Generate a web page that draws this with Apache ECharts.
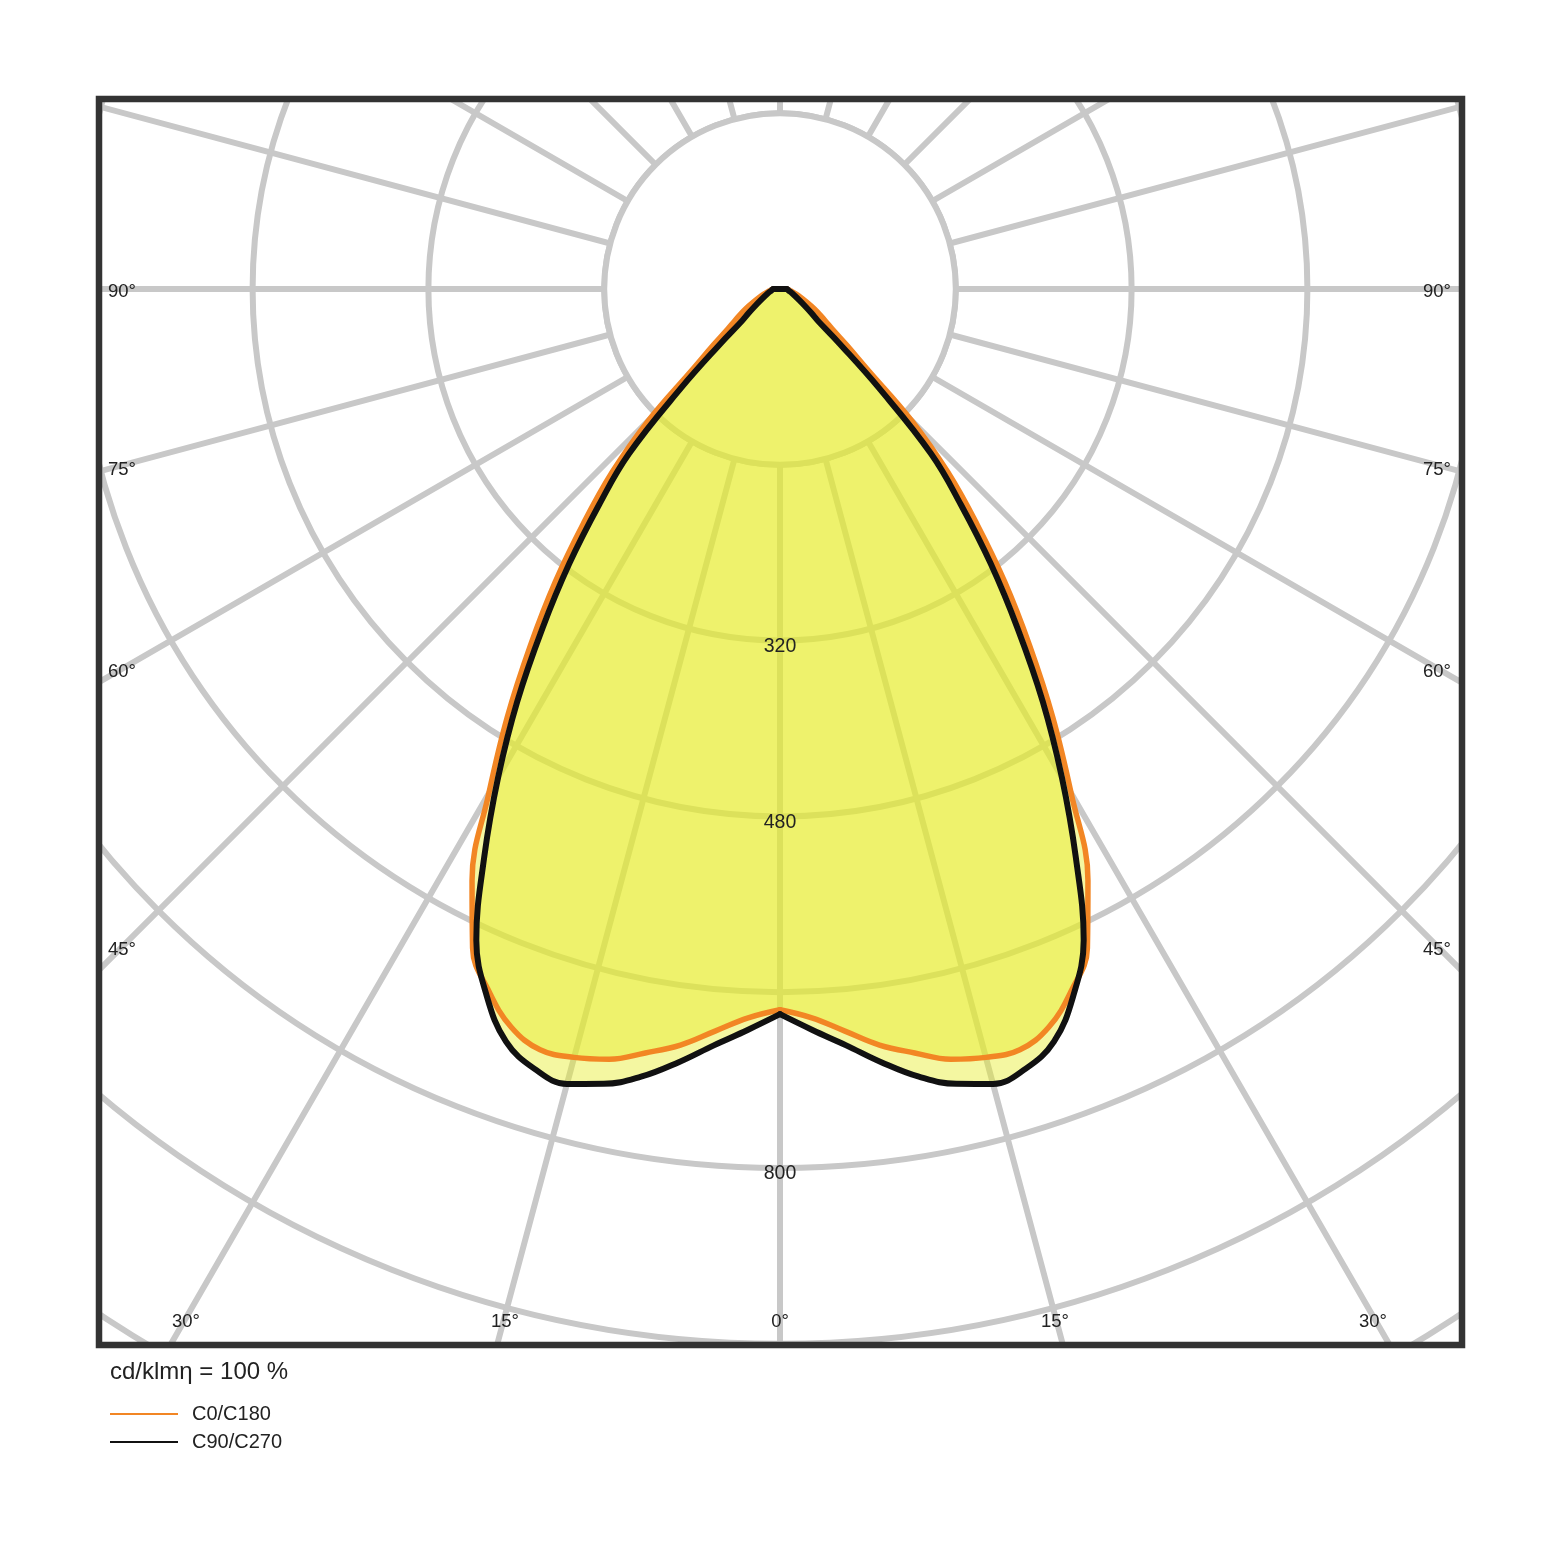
<!DOCTYPE html>
<html>
<head>
<meta charset="utf-8">
<title>配光曲线</title>
<script src="https://cdn.jsdelivr.net/npm/echarts@6.0.0/dist/echarts.min.js"></script>
<style>
  html, body { margin: 0; padding: 0; background: #fff; }
  #chart { width: 1560px; height: 1561px; }
</style>
</head>
<body>
<div id="chart"></div>
<script>
// 光强数据 cd/klm，γ 以正下方为 0°，两侧对称
const gammaDeg = [0, 2.5, 5, 7.5, 10, 12.5, 15, 17.5, 20, 22.5, 25, 27.5, 30, 32.5, 35, 37.5, 40, 42.5, 45, 47.5, 50, 52.5, 55, 60, 70, 80, 90]
const c0c180 = [656, 664, 678, 694, 706, 718, 724, 726, 715, 692, 662, 607, 530, 462, 396, 336, 278, 226, 170, 107, 79, 60, 50, 36, 18, 10, 6]
const c90c270 = [660, 675, 691, 710, 728, 741, 749, 744, 729, 697, 654, 583, 513, 445, 377, 315, 256, 204, 127, 73, 45, 36, 29, 20, 12, 8, 6]

// 刻度文字
const radialLabels = [320, 480, 800]
const sideAngleLabels = ['90°', '75°', '60°', '45°']
const bottomAngleLabels = ['30°', '15°', '0°', '15°', '30°']
const seriesNames = ['C0/C180', 'C90/C270']

// 布局
const cx = 780
const cy = 289
const ringStep = 160
const ringPx = 175.8
const rMax = 1280
const polarR = (ringPx * rMax) / ringStep
const frame = { x: 99, y: 99, width: 1363, height: 1246 }
const sideLabelY = [292, 470, 672, 950]
const bottomLabelDx = [-594, -275, 0, 275, 593]
const bottomLabelY = 1322

const font = 'Liberation Sans, Arial, sans-serif'
const gridLine = { color: '#c8c8c8', width: 6 }
const fillColor = '#e6ed2a'
const orange = '#f28624'
const black = '#111111'

// 半边曲线：左边 angle = γ，右边 angle = 360 - γ；末尾接到对侧 90° 使顶部闭合
function half(values, side) {
  const ang = (g) => (side === 'left' ? g : 360 - g)
  const other = (g) => (side === 'left' ? 360 - g : g)
  const pts = gammaDeg.map((g, i) => [values[i], ang(g)])
  const last = gammaDeg.length - 1
  pts.push([values[last], other(gammaDeg[last])])
  return pts
}

function fillSeries(name, values, side) {
  return {
    name: name,
    type: 'line',
    coordinateSystem: 'polar',
    polarIndex: 0,
    data: half(values, side),
    smooth: 0.4,
    symbol: 'none',
    silent: true,
    lineStyle: { width: 0, opacity: 0 },
    areaStyle: { color: fillColor, opacity: 0.44 },
    z: 2,
  }
}

function lineSeries(name, values, side, color, width, z) {
  return {
    name: name,
    type: 'line',
    coordinateSystem: 'polar',
    polarIndex: 0,
    data: half(values, side),
    smooth: 0.4,
    symbol: 'none',
    silent: true,
    color: color,
    itemStyle: { color: color },
    lineStyle: { color: color, width: width, cap: 'round', join: 'round' },
    z: z,
  }
}

const textStyleBase = { fill: '#222', fontSize: 18.5, fontFamily: font }

const graphics = [
  // 内圈白底，遮住径向线
  {
    type: 'circle',
    silent: true,
    z: 1,
    shape: { cx: cx, cy: cy, r: ringPx },
    style: { fill: '#fff', stroke: gridLine.color, lineWidth: gridLine.width },
  },
  // 边框外的白色遮罩
  { type: 'rect', silent: true, z: 50, shape: { x: 0, y: 0, width: 1560, height: frame.y }, style: { fill: '#fff' } },
  { type: 'rect', silent: true, z: 50, shape: { x: 0, y: frame.y + frame.height, width: 1560, height: 1561 - frame.y - frame.height }, style: { fill: '#fff' } },
  { type: 'rect', silent: true, z: 50, shape: { x: 0, y: 0, width: frame.x, height: 1561 }, style: { fill: '#fff' } },
  { type: 'rect', silent: true, z: 50, shape: { x: frame.x + frame.width, y: 0, width: 1560 - frame.x - frame.width, height: 1561 }, style: { fill: '#fff' } },
  {
    type: 'rect',
    silent: true,
    z: 51,
    shape: frame,
    style: { fill: 'none', stroke: '#333', lineWidth: 6.5 },
  },
]

sideAngleLabels.forEach((t, i) => {
  graphics.push({
    type: 'text', silent: true, z: 52, x: 108, y: sideLabelY[i],
    style: Object.assign({}, textStyleBase, { text: t, align: 'left', verticalAlign: 'middle' }),
  })
  graphics.push({
    type: 'text', silent: true, z: 52, x: 1451, y: sideLabelY[i],
    style: Object.assign({}, textStyleBase, { text: t, align: 'right', verticalAlign: 'middle' }),
  })
})
bottomAngleLabels.forEach((t, i) => {
  graphics.push({
    type: 'text', silent: true, z: 52, x: cx + bottomLabelDx[i], y: bottomLabelY,
    style: Object.assign({}, textStyleBase, { text: t, align: 'center', verticalAlign: 'middle' }),
  })
})

const option = {
  animation: false,
  backgroundColor: '#fff',
  title: {
    text: 'cd/klmη = 100 %',
    left: 105,
    top: 1355,
    z: 60,
    textStyle: { fontSize: 24, fontWeight: 'normal', color: '#222', fontFamily: font },
  },
  legend: {
    data: seriesNames,
    orient: 'vertical',
    left: 105,
    top: 1399,
    icon: 'rect',
    itemWidth: 68,
    itemHeight: 2,
    itemGap: 8,
    selectedMode: false,
    z: 60,
    textStyle: { fontSize: 20, color: '#222', fontFamily: font, lineHeight: 20, padding: [0, 0, 0, 9] },
  },
  polar: [
    { center: [cx, cy], radius: polarR },
    { center: [cx, cy], radius: polarR },
  ],
  angleAxis: [
    {
      polarIndex: 0,
      type: 'value',
      min: 0,
      max: 360,
      interval: 15,
      startAngle: 270,
      clockwise: true,
      axisLine: { show: false },
      axisTick: { show: false },
      axisLabel: { show: false },
      splitLine: { show: true, lineStyle: gridLine },
    },
    {
      polarIndex: 1,
      type: 'value',
      min: 0,
      max: 360,
      interval: 15,
      startAngle: 270,
      clockwise: true,
      axisLine: { show: false },
      axisTick: { show: false },
      axisLabel: { show: false },
      splitLine: { show: false },
    },
  ],
  radiusAxis: [
    {
      polarIndex: 0,
      type: 'value',
      min: 0,
      max: rMax,
      interval: ringStep,
      axisLine: { show: false },
      axisTick: { show: false },
      axisLabel: { show: false },
      splitLine: { show: true, lineStyle: gridLine },
    },
    {
      polarIndex: 1,
      type: 'value',
      min: 0,
      max: rMax,
      interval: ringStep,
      z: 10,
      axisLine: { show: false },
      axisTick: { show: false },
      splitLine: { show: false },
      axisLabel: {
        show: true,
        margin: 0,
        align: 'center',
        verticalAlign: 'top',
        lineHeight: 12,
        fontSize: 19.5,
        color: '#222',
        fontFamily: font,
        formatter: (v) => (radialLabels.includes(v) ? String(v) : ''),
      },
    },
  ],
  graphic: graphics,
  series: [
    fillSeries('C0/C180 面左', c0c180, 'left'),
    fillSeries('C0/C180 面右', c0c180, 'right'),
    fillSeries('C90/C270 面左', c90c270, 'left'),
    fillSeries('C90/C270 面右', c90c270, 'right'),
    lineSeries(seriesNames[0], c0c180, 'left', orange, 5.5, 3),
    lineSeries(seriesNames[0], c0c180, 'right', orange, 5.5, 3),
    lineSeries(seriesNames[1], c90c270, 'left', black, 6, 4),
    lineSeries(seriesNames[1], c90c270, 'right', black, 6, 4),
  ],
}

const chart = echarts.init(document.getElementById('chart'))
chart.setOption(option)
</script>
</body>
</html>
